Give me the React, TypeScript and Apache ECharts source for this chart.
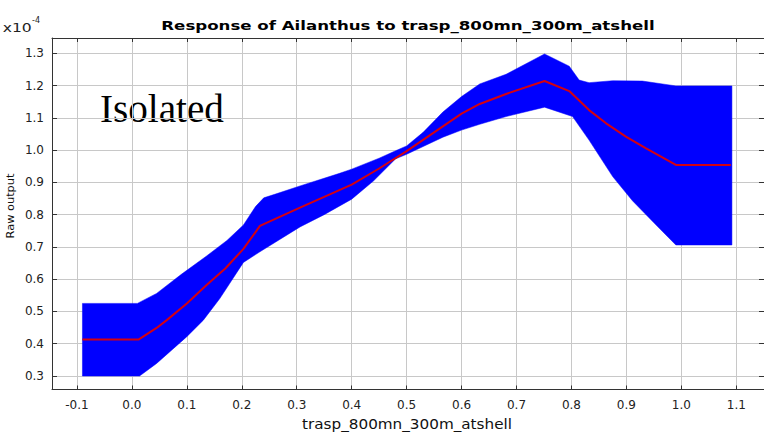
import React, { useEffect, useRef } from "react";
import * as echarts from "echarts";

const X_TICKS = [-0.1, 0.0, 0.1, 0.2, 0.3, 0.4, 0.5, 0.6, 0.7, 0.8, 0.9, 1.0, 1.1];
const Y_TICKS = [0.3, 0.4, 0.5, 0.6, 0.7, 0.8, 0.9, 1.0, 1.1, 1.2, 1.3];

// Mean response (units of 1e-4)
const MEAN: [number, number][] = [
  [-0.09, 0.413], [0.012, 0.413], [0.045, 0.449], [0.064, 0.474], [0.1, 0.525],
  [0.136, 0.582], [0.17, 0.633], [0.203, 0.694], [0.233, 0.765], [0.306, 0.822],
  [0.35, 0.855], [0.4, 0.893], [0.45, 0.943], [0.5, 0.997], [0.55, 1.055],
  [0.6, 1.113], [0.633, 1.143], [0.681, 1.174], [0.751, 1.214], [0.796, 1.183],
  [0.832, 1.124], [0.863, 1.083], [0.899, 1.042], [0.935, 1.006], [0.99, 0.954],
  [1.09, 0.954],
];

// Upper edge of the band
const UPPER: [number, number][] = [
  [-0.09, 0.525], [0.01, 0.525], [0.045, 0.556], [0.09, 0.615], [0.136, 0.672],
  [0.173, 0.72], [0.203, 0.768], [0.225, 0.825], [0.24, 0.852], [0.26, 0.863],
  [0.306, 0.889], [0.378, 0.928], [0.4, 0.941], [0.45, 0.975], [0.48, 0.998],
  [0.5, 1.013], [0.53, 1.055], [0.566, 1.118], [0.6, 1.166], [0.633, 1.205],
  [0.681, 1.235], [0.751, 1.298], [0.796, 1.26], [0.814, 1.217], [0.832, 1.209],
  [0.875, 1.215], [0.929, 1.214], [0.99, 1.199], [1.092, 1.199],
];

// Lower edge of the band
const LOWER: [number, number][] = [
  [-0.09, 0.3], [0.014, 0.3], [0.045, 0.339], [0.1, 0.422], [0.13, 0.473],
  [0.16, 0.54], [0.18, 0.592], [0.203, 0.652], [0.233, 0.685], [0.306, 0.762],
  [0.35, 0.8], [0.4, 0.848], [0.44, 0.905], [0.48, 0.973], [0.5, 0.987],
  [0.566, 1.04], [0.6, 1.062], [0.633, 1.08], [0.681, 1.104], [0.751, 1.133],
  [0.802, 1.104], [0.832, 1.031], [0.875, 0.918], [0.911, 0.843], [0.954, 0.768],
  [0.99, 0.706], [1.092, 0.706],
];

const X_MIN = -0.1454;
const X_MAX = 1.1504;
const Y_MIN = 0.2582;
const Y_MAX = 1.3474;

function measure(text: string, font: string): number {
  const c = document.createElement("canvas").getContext("2d");
  if (!c) return text.length * 7;
  c.font = font;
  return c.measureText(text).width;
}

function fitScale(text: string, size: number, family: string, weight: string, target: number) {
  const w = measure(text, `${weight} ${size}px ${family}`);
  return w > 0 ? target / w : 1;
}

export default function App() {
  const ref = useRef<HTMLDivElement>(null);

  useEffect(() => {
    if (!ref.current) return;
    const chart = echarts.init(ref.current, undefined, { renderer: "svg" });

    const title = "Response of Ailanthus to trasp_800mn_300m_atshell";
    const xName = "trasp_800mn_300m_atshell";
    const yName = "Raw output";
    const sans = '"DejaVu Sans"';
    const serif = '"Liberation Serif"';

    const axisCommon = {
      type: "value" as const,
      axisLine: { show: true, onZero: false, lineStyle: { color: "#333", width: 1 } },
    };

    chart.setOption({
      animation: false,
      backgroundColor: "#ffffff",
      grid: { left: 52, top: 38, width: 713, height: 351.5, containLabel: false },
      xAxis: [
        {
          ...axisCommon,
          min: X_MIN,
          max: X_MAX,
          position: "bottom",
          axisTick: { show: true, inside: true, length: 4, customValues: X_TICKS, lineStyle: { color: "#333" } },
          axisLabel: {
            customValues: X_TICKS,
            formatter: (v: number) => v.toFixed(1),
            margin: 9,
            fontFamily: "DejaVu Sans",
            fontSize: 12,
            color: "#222",
          },
          splitLine: { show: true, lineStyle: { color: "#c8c8c8", width: 1 } },
        },
        {
          ...axisCommon,
          min: X_MIN,
          max: X_MAX,
          position: "top",
          axisTick: { show: true, inside: true, length: 4, customValues: X_TICKS, lineStyle: { color: "#333" } },
          axisLabel: { show: false, customValues: X_TICKS },
          splitLine: { show: false },
        },
      ],
      yAxis: [
        {
          ...axisCommon,
          min: Y_MIN,
          max: Y_MAX,
          position: "left",
          axisTick: { show: true, inside: true, length: 5, customValues: Y_TICKS, lineStyle: { color: "#333" } },
          axisLabel: {
            customValues: Y_TICKS,
            formatter: (v: number) => v.toFixed(1),
            margin: 8,
            fontFamily: "DejaVu Sans",
            fontSize: 12,
            color: "#222",
          },
          splitLine: { show: true, lineStyle: { color: "#c8c8c8", width: 1 } },
        },
        {
          ...axisCommon,
          min: Y_MIN,
          max: Y_MAX,
          position: "right",
          axisTick: { show: true, inside: true, length: 5, customValues: Y_TICKS, lineStyle: { color: "#333" } },
          axisLabel: { show: false, customValues: Y_TICKS },
          splitLine: { show: false },
        },
      ],
      series: [
        {
          type: "custom",
          xAxisIndex: 0,
          yAxisIndex: 0,
          data: [[0.5, 1.0]],
          encode: { x: 0, y: 1 },
          silent: true,
          z: 2,
          renderItem: (_params: any, api: any) => {
            const pts: number[][] = [];
            UPPER.forEach((p) => pts.push(api.coord(p)));
            for (let i = LOWER.length - 1; i >= 0; i--) pts.push(api.coord(LOWER[i]));
            return {
              type: "polygon",
              shape: { points: pts },
              style: { fill: "#0000ff", stroke: "#0000ff", lineWidth: 0.5 },
            };
          },
        },
        {
          type: "line",
          xAxisIndex: 0,
          yAxisIndex: 0,
          data: MEAN,
          showSymbol: false,
          symbol: "none",
          silent: true,
          z: 3,
          lineStyle: { color: "#d40010", width: 2 },
        },
      ],
      graphic: [
        {
          type: "text",
          x: 408,
          y: 26,
          scaleX: fitScale(title, 13, sans, "bold", 494),
          style: {
            text: title,
            font: `bold 13px ${sans}`,
            fill: "#000",
            align: "center",
            verticalAlign: "middle",
          },
        },
        {
          type: "text",
          x: 407,
          y: 423.5,
          scaleX: fitScale(xName, 14, sans, "normal", 210),
          style: {
            text: xName,
            font: `14px ${sans}`,
            fill: "#111",
            align: "center",
            verticalAlign: "middle",
          },
        },
        {
          type: "text",
          x: 11,
          y: 206,
          rotation: Math.PI / 2,
          scaleX: fitScale(yName, 11, sans, "normal", 65),
          style: {
            text: yName,
            font: `11px ${sans}`,
            fill: "#111",
            align: "center",
            verticalAlign: "middle",
          },
        },
        {
          type: "text",
          x: 2.7,
          y: 27.5,
          scaleX: fitScale("x10", 12, sans, "normal", 29),
          style: {
            text: "x10",
            font: `12px ${sans}`,
            fill: "#222",
            align: "left",
            verticalAlign: "middle",
          },
        },
        {
          type: "text",
          x: 32,
          y: 20.5,
          style: {
            text: "-4",
            font: `8px ${sans}`,
            fill: "#222",
            align: "left",
            verticalAlign: "middle",
          },
        },
        {
          type: "text",
          x: 100,
          y: 109,
          scaleX: fitScale("Isolated", 40, serif, "normal", 124),
          style: {
            text: "Isolated",
            font: `40px ${serif}`,
            fill: "#000",
            align: "left",
            verticalAlign: "middle",
          },
        },
      ],
    });

    return () => {
      chart.dispose();
    };
  }, []);

  return (
    <div
      ref={ref}
      style={{ position: "fixed", left: 0, top: 0, width: 764, height: 433, background: "#fff" }}
    />
  );
}
